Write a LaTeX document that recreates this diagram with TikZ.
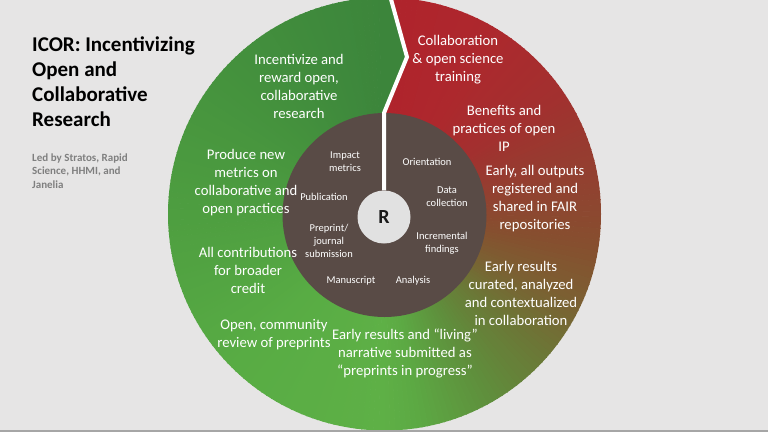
\documentclass[tikz,border=0pt]{standalone}
\usepackage{fontspec}
\setmainfont{Carlito}
\definecolor{bg}{HTML}{E6E5E5}
\definecolor{hubdark}{HTML}{594B46}
\definecolor{hubcore}{HTML}{E1E1E1}
\definecolor{leadgray}{HTML}{7F7F7F}
\definecolor{s0}{HTML}{B0232C}
\definecolor{s1}{HTML}{AD282D}
\definecolor{s2}{HTML}{A3302F}
\definecolor{s3}{HTML}{924030}
\definecolor{s4}{HTML}{86502F}
\definecolor{s5}{HTML}{7B6032}
\definecolor{s6}{HTML}{6D7536}
\definecolor{s7}{HTML}{5F8E3C}
\definecolor{s8}{HTML}{5CA843}
\definecolor{s9}{HTML}{5EB046}
\definecolor{s10}{HTML}{58AC44}
\definecolor{s11}{HTML}{4E9E40}
\definecolor{s12}{HTML}{44913D}
\definecolor{s13}{HTML}{3F8A3C}
\definecolor{s14}{HTML}{3C853B}
\newcommand\ringseg[4]{%
  \pgfmathtruncatemacro\segn{max(1,round(abs(#2-#1)/1.5))}%
  \foreach \k in {1,...,\segn}{%
    \pgfmathsetmacro\ffa{#1+(#2-#1)*(\k-1)/\segn}%
    \pgfmathsetmacro\ffb{#1+(#2-#1)*\k/\segn}%
    \pgfmathsetmacro\ffp{100*(\k-0.5)/\segn}%
    \colorlet{segc}{#4!\ffp!#3}%
    \filldraw[fill=segc, draw=segc, line width=0.8pt] (0,0) -- (\ffa:232) arc[start angle=\ffa, end angle=\ffb, radius=232] -- cycle;
  }}
\begin{document}
\begin{tikzpicture}[x=1pt,y=-1pt,
  ringtxt/.style={text=white, align=center, inner sep=0pt, font=\fontsize{14.7}{18}\selectfont},
  innertxt/.style={text=white, align=center, inner sep=0pt, font=\fontsize{10.5}{12.8}\selectfont},
  divider/.style={draw=white, line width=4pt, line join=miter}]
\useasboundingbox (0,0) rectangle (768,432);
\fill[bg] (0,0) rectangle (768,432);
% outer ring with angular colour gradient
\begin{scope}
  \clip (384.5,214) circle[radius=216.5];
  \begin{scope}[shift={(384.5,214)}, yscale=-1]
    \ringseg{90}{60}{s0}{s1}
    \ringseg{60}{35}{s1}{s2}
    \ringseg{35}{10}{s2}{s3}
    \ringseg{10}{-10}{s3}{s4}
    \ringseg{-10}{-25}{s4}{s5}
    \ringseg{-25}{-40}{s5}{s6}
    \ringseg{-40}{-60}{s6}{s7}
    \ringseg{-60}{-80}{s7}{s8}
    \ringseg{-80}{-90}{s8}{s9}
    \ringseg{-90}{-135}{s9}{s10}
    \ringseg{-135}{-180}{s10}{s11}
    \ringseg{-180}{-225}{s11}{s12}
    \ringseg{-225}{-250}{s12}{s13}
    \ringseg{-250}{-270}{s13}{s14}
  \end{scope}
  \fill[s14] (384.5,113) -- (407,57) -- (389,-8) -- (384.5,-8) -- cycle;
\end{scope}
% inner disc and hub
\node[circle, fill=hubdark, minimum size=204pt, inner sep=0pt] (inner) at (384.5,215) {};
\node[circle, fill=hubcore, minimum size=53pt, inner sep=0pt, text=black!90,
      font=\bfseries\fontsize{20}{24}\selectfont] (hub) at (384,217) {R};
% white divider
\coordinate (z1) at (384,113);
\coordinate (z2) at (407,57);
\coordinate (z3) at (389,-8);
\draw[divider] (hub.north) -- (z1) -- (z2) -- (z3);
% title
\node[anchor=west, align=left, inner sep=0pt, font=\bfseries\fontsize{21}{25}\selectfont] (title) at (32,82)
  {ICOR: Incentivizing\\Open and\\Collaborative\\Research};
\node[anchor=west, align=left, inner sep=0pt, text=leadgray, font=\bfseries\fontsize{11}{13.5}\selectfont] (lead) at (32,171)
  {Led by Stratos, Rapid\\Science, HHMI, and\\Janelia};
% outer ring texts
\node[ringtxt] (t1) at (299,86) {Incentivize and\\reward open,\\collaborative\\research};
\node[ringtxt] (t2) at (458,59.5) {Collaboration\\\& open science\\training};
\node[ringtxt] (t3) at (504,128.5) {Benefits and\\practices of open\\IP};
\node[ringtxt] (t4) at (535,199) {Early, all outputs\\registered and\\shared in FAIR\\repositories};
\node[ringtxt] (t5) at (521,293) {Early results\\curated, analyzed\\and contextualized\\in collaboration};
\node[ringtxt] (t6) at (405,353.5) {Early results and “living”\\narrative submitted as\\“preprints in progress”};
\node[ringtxt] (t7) at (274,334.5) {Open, community\\review of preprints};
\node[ringtxt] (t8) at (248,270.5) {All contributions\\for broader\\credit};
\node[ringtxt] (t9) at (246,182.5) {Produce new\\metrics on\\collaborative and\\open practices};
% inner texts
\node[innertxt] (i1) at (345,161.5) {Impact\\metrics};
\node[innertxt] (i2) at (427,162) {Orientation};
\node[innertxt] (i3) at (324,197) {Publication};
\node[innertxt] (i4) at (447,197) {Data\\collection};
\node[innertxt] (i5) at (329,241) {Preprint/\\journal\\submission};
\node[innertxt] (i6) at (442,243) {Incremental\\findings};
\node[innertxt] (i7) at (351,281) {Manuscript};
\node[innertxt] (i8) at (413,281) {Analysis};
% bottom edge strip
\fill[black!35] (0,429.5) rectangle (768,432);
\end{tikzpicture}
\end{document}
